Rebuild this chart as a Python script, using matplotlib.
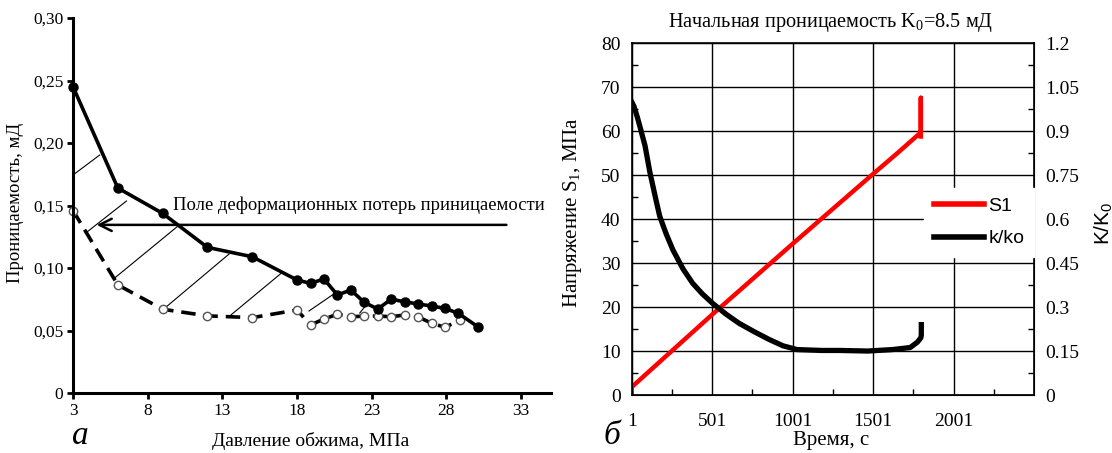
import numpy as np
import matplotlib
matplotlib.use('Agg')
import matplotlib.pyplot as plt
from matplotlib.lines import Line2D

plt.rcParams['font.family'] = ['Liberation Serif', 'DejaVu Serif']
plt.rcParams['mathtext.fontset'] = 'custom'
plt.rcParams['mathtext.rm'] = 'Liberation Serif'
plt.rcParams['mathtext.it'] = 'Liberation Serif:italic'
plt.rcParams['mathtext.sf'] = 'Liberation Sans'

## data, panel a #################
press_solid = [3, 6, 9, 12, 15, 18, 18.9, 19.8, 20.7, 21.6, 22.5, 23.4, 24.3,
               25.2, 26.1, 27.0, 27.9, 28.8, 30.1]
perm_solid = [0.245, 0.164, 0.1437, 0.1165, 0.109, 0.0904, 0.0877, 0.0912,
              0.0784, 0.0824, 0.0725, 0.0672, 0.075, 0.073, 0.0712, 0.0696,
              0.0677, 0.0637, 0.053]
press_dash = [3, 6, 9, 12, 15, 18, 18.9, 19.8, 20.7, 21.6, 22.5, 23.4, 24.3,
              25.2, 26.1, 27.0, 27.9, 28.9]
perm_dash = [0.146, 0.0865, 0.067, 0.0617, 0.0603, 0.0664, 0.0544, 0.0592,
             0.063, 0.061, 0.0615, 0.0616, 0.061, 0.0624, 0.061, 0.0558,
             0.0526, 0.0582]
# thin hatch strokes between curves
hatch_x0 = [3.0, 3.83, 5.76, 9.25, 13.57, 18.8, 22.2]
hatch_y0 = [0.1744, 0.1278, 0.0917, 0.069, 0.0624, 0.0656, 0.064]
hatch_x1 = [4.79, 6.58, 9.97, 13.45, 16.93, 20.53, 22.8]
hatch_y1 = [0.1904, 0.1536, 0.133, 0.1112, 0.0957, 0.0798, 0.073]
x_ticks_a = [3, 8, 13, 18, 23, 28, 33]
y_ticks_a = [0, 0.05, 0.10, 0.15, 0.20, 0.25, 0.30]
y_labels_a = ['0', '0,05', '0,10', '0,15', '0,20', '0,25', '0,30']

## data, panel b #################
t_s1 = [1, 1, 501, 1001, 1501, 1651, 1790, 1797, 1797, 1797]
s1 = [0, 1.8, 18.3, 34.4, 50.3, 55.0, 59.5, 60.2, 67.6, 58.3]
t_k = [1, 15, 35, 55, 84, 114, 150, 175, 215, 257, 320, 380, 440, 503, 589,
       667, 765, 853, 940, 1028, 1182, 1292, 1467, 1621, 1731, 1775, 1797,
       1800, 1800]
k_rel = [1.0, 0.985, 0.95, 0.91, 0.85, 0.76, 0.67, 0.61, 0.55, 0.495, 0.43,
         0.381, 0.345, 0.313, 0.275, 0.245, 0.215, 0.19, 0.168, 0.155, 0.152,
         0.152, 0.150, 0.155, 0.162, 0.18, 0.195, 0.205, 0.24]
x_ticks_b = [1, 501, 1001, 1501, 2001]
y_ticks_b = [0, 10, 20, 30, 40, 50, 60, 70, 80]
y_ticks_br = [0, 0.15, 0.3, 0.45, 0.6, 0.75, 0.9, 1.05, 1.2]
y_labels_br = ['0', '0.15', '0.3', '0.45', '0.6', '0.75', '0.9', '1.05', '1.2']

W, H = 1112, 453
fig = plt.figure(figsize=(W / 100, H / 100), dpi=100)

#---------- panel a
ax = fig.add_axes([73 / W, 60 / H, 478 / W, 375 / H])
for s in ['top', 'right']:
    ax.spines[s].set_visible(False)
for s in ['left', 'bottom']:
    ax.spines[s].set_linewidth(2.2)
ax.set_xlim(3, 35)
ax.set_ylim(0, 0.30)
ax.set_xticks(x_ticks_a)
ax.set_yticks(y_ticks_a)
ax.set_yticklabels(y_labels_a)
ax.tick_params(direction='out', length=4, width=2, labelsize=12.5, pad=3)

for i in range(len(hatch_x0)):
    ax.plot([hatch_x0[i], hatch_x1[i]], [hatch_y0[i], hatch_y1[i]],
            color='black', lw=0.8, clip_on=False)
ax.plot(press_dash, perm_dash, color='black', lw=2.6, dashes=(4, 2.2),
        marker='o', ms=6, mfc='white', mec='#555555', mew=1, clip_on=False)
ax.plot(press_solid, perm_solid, color='black', lw=2.6, marker='o', ms=6.5,
        clip_on=False)
ax.annotate('', xy=(4.4, 0.1345), xytext=(32.2, 0.1345),
            arrowprops=dict(arrowstyle='->', lw=1.8, mutation_scale=22,
                            color='black'))
ax.text(9.7, 0.1505, 'Поле деформационных потерь приницаемости',
        fontsize=13.4, va='center', ha='left')

fig.text(16 / W, 1 - 203 / H, 'Проницаемость, мД', rotation=90,
         fontsize=13.5, ha='center', va='center')
fig.text(311 / W, 1 - 441 / H, 'Давление обжима, МПа', fontsize=14,
         ha='center', va='center')
fig.text(80 / W, 1 - 436 / H, 'а', fontsize=24, style='italic',
         ha='center', va='center')

#---------- panel b
ax2 = fig.add_axes([631.7 / W, 58 / H, 402.3 / W, 351.7 / H])
ax2.set_xlim(1, 2500)
ax2.set_ylim(0, 80)
ax2.set_xticks(x_ticks_b)
ax2.set_xticks([251, 751, 1251, 1751, 2251], minor=True)
ax2.set_yticks(y_ticks_b)
ax2.set_yticks(np.arange(5, 80, 10), minor=True)
ax2.grid(True, which='major', color='black', lw=1)
ax2.tick_params(which='both', direction='in', labelsize=14, width=1)
ax2.tick_params(which='major', length=0, pad=8)
ax2.tick_params(axis='x', which='major', pad=13)
ax2.tick_params(which='minor', length=4)
for s in ax2.spines.values():
    s.set_linewidth(1.2)

ax2r = ax2.twinx()
ax2r.set_ylim(0, 1.2)
ax2r.set_yticks(y_ticks_br)
ax2r.set_yticklabels(y_labels_br)
ax2r.set_yticks(np.arange(0.075, 1.2, 0.15), minor=True)
ax2r.tick_params(which='both', direction='in', labelsize=14, width=1)
ax2r.tick_params(which='major', length=0, pad=8)
ax2r.tick_params(which='minor', length=4)

ax2.plot(t_s1, s1, color='#ff0000', lw=3.2, solid_capstyle='butt')
ax2r.plot(t_k, k_rel, color='black', lw=3.8)

handles = [Line2D([], [], color='#ff0000', lw=4),
           Line2D([], [], color='black', lw=4)]
leg = ax2r.legend(handles, ['S1', 'k/ko'], loc='upper right',
                  bbox_to_anchor=(1.0, 0.589), frameon=True, fancybox=False,
                  borderaxespad=0, handlelength=2.6, handletextpad=0.2,
                  labelspacing=0.75, borderpad=0.5,
                  prop={'family': 'Liberation Sans', 'size': 14})
leg.get_frame().set_edgecolor('white')
leg.get_frame().set_facecolor('white')
leg.get_frame().set_alpha(1)

fig.text(831 / W, 1 - 22 / H, r'Начальная проницаемость K$_\mathrm{0}$=8.5 мД',
         fontsize=14.6, ha='center', va='center')
fig.text(831 / W, 1 - 441 / H, 'Время, с', fontsize=15, ha='center',
         va='center')
fig.text(572 / W, 1 - 213 / H, r'Напряжение S$_\mathrm{1}$, МПа', rotation=90,
         fontsize=15, ha='center', va='center')
fig.text(1103 / W, 1 - 223 / H, r'K/K$_\mathsf{0}$', rotation=90, fontsize=15,
         ha='center', va='center', family='Liberation Sans')
fig.text(612 / W, 1 - 436 / H, 'б', fontsize=24, style='italic',
         ha='center', va='center')

fig.savefig('out.png', dpi=100)
